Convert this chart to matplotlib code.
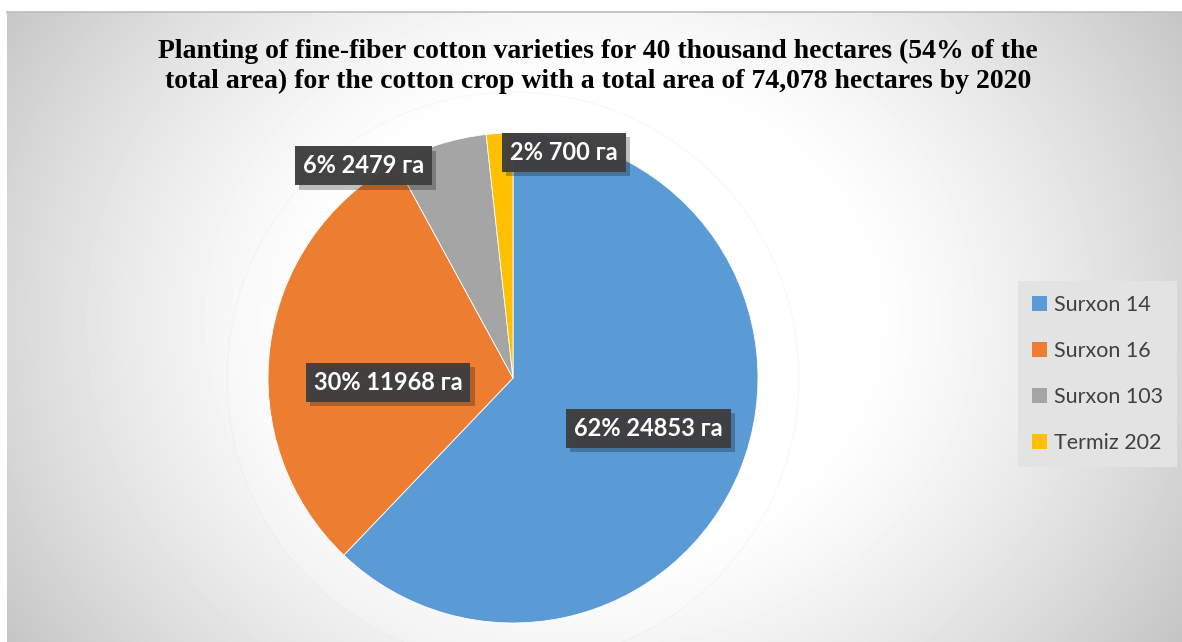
import numpy as np
import matplotlib
matplotlib.use("Agg")
import matplotlib.pyplot as plt
from matplotlib import patheffects as pe
from matplotlib.patches import Circle

# Données
varieties = ["Surxon 14", "Surxon 16", "Surxon 103", "Termiz 202"]
area_ha = [24853, 11968, 2479, 700]
percent_labels = ["62%", "30%", "6%", "2%"]
colors = ["#5B9BD5", "#ED7D31", "#A5A5A5", "#FFC000"]

title = ("Planting of fine-fiber cotton varieties for 40 thousand hectares (54% of the\n"
         "total area) for the cotton crop with a total area of 74,078 hectares by 2020")

# position des étiquettes (rayon, décalage d'angle en degrés) par rapport au milieu du secteur
label_r = [0.59, 0.51, 1.06, 0.945]
label_dang = [1.5, 9.4, 17.8, -15.9]

W, H = 1182, 642
fig = plt.figure(figsize=(W / 100, H / 100), dpi=100)
fig.patch.set_facecolor("white")

# Fond: dégradé radial gris -> blanc
bg = fig.add_axes([7 / W, 0, 1 - 7 / W, (H - 12) / H])
yy, xx = np.mgrid[12:H, 7:W]
d = np.sqrt(((xx - 590) / 590.0) ** 2 + ((yy - 320) / 500.0) ** 2)
v = 255 - 60 * np.clip((d - 0.45) / 0.75, 0, 1) ** 1.3
bg.imshow(v, cmap="gray", vmin=0, vmax=255, aspect="auto", interpolation="bilinear")
bg.set_axis_off()
fig.add_artist(plt.Line2D([7 / W, 1], [(H - 12) / H] * 2, color="#bdbdbd", lw=1.2))

# Camembert
R = 245.0
half = 250.0
ax = fig.add_axes([(513 - half) / W, (H - 378 - half) / H, 2 * half / W, 2 * half / H])
ax.set_axis_off()
halo = Circle((0, 0), 1.167, facecolor="white", alpha=0.18, edgecolor="#d8d8d8",
              lw=0.8, zorder=0, clip_on=False)
ax.add_patch(halo)
wedges, _ = ax.pie(area_ha, colors=colors, startangle=90, counterclock=False,
                   wedgeprops=dict(edgecolor="white", linewidth=0.6), radius=1.0)
ax.set_xlim(-half / R, half / R)
ax.set_ylim(-half / R, half / R)
ax.set_aspect("auto")

for w, pct, val, r, da in zip(wedges, percent_labels, area_ha, label_r, label_dang):
    mid = np.deg2rad((w.theta1 + w.theta2) / 2 + da)
    t = ax.text(r * np.cos(mid), r * np.sin(mid), f"{pct} {val} га",
                ha="center", va="center", color="white", fontsize=17,
                fontweight="bold", family=["Lato", "DejaVu Sans"], zorder=10,
                bbox=dict(boxstyle="square,pad=0.34", facecolor="#3f3f3f",
                          edgecolor="none", alpha=0.97))
    t.get_bbox_patch().set_path_effects([
        pe.withSimplePatchShadow(offset=(3, -3), shadow_rgbFace="black", alpha=0.25)])

# Titre
fig.text(598 / W, 1 - 66 / H, title, ha="center", va="center",
         fontsize=20, fontweight="bold", family="Liberation Serif",
         linespacing=1.25, color="black")

# Légende
leg = fig.legend(wedges, varieties, loc="center left",
                 bbox_to_anchor=(1018 / W, 1 - 374 / H), borderaxespad=0,
                 frameon=True, fancybox=False, facecolor="#e3e3e3", edgecolor="none",
                 framealpha=1, labelspacing=1.2, handlelength=0.7,
                 handleheight=0.7, handletextpad=0.3, borderpad=0.65,
                 prop=dict(family="Lato", size=15.5))
for txt in leg.get_texts():
    txt.set_color("#404040")
for h in leg.legend_handles:
    h.set_edgecolor("none")

fig.savefig("out.png", dpi=100)
